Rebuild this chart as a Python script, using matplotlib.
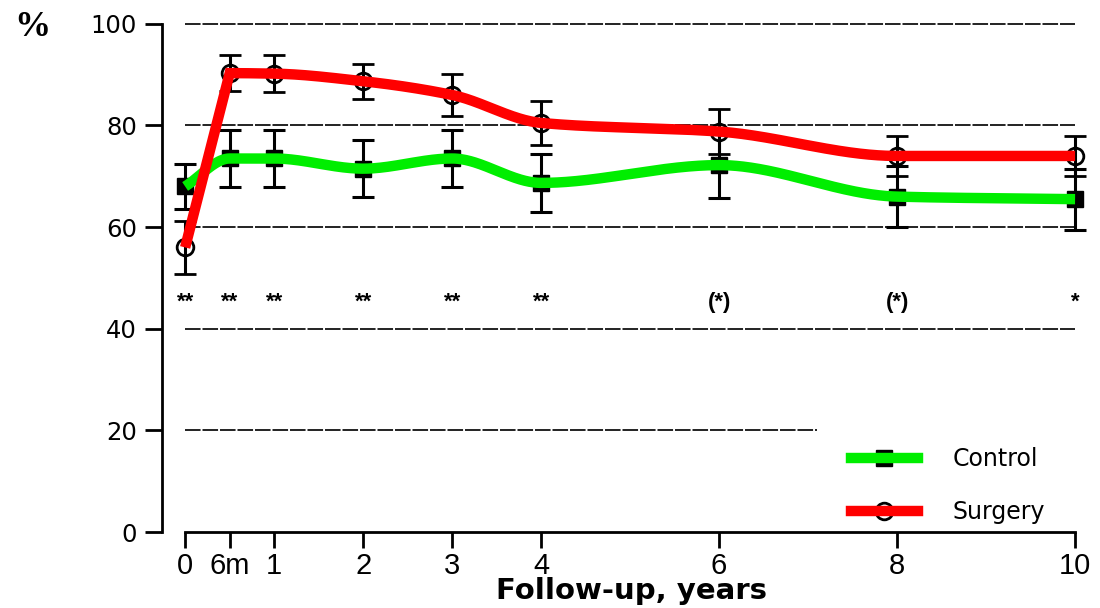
import numpy as np
import matplotlib
matplotlib.use("Agg")
import matplotlib.pyplot as plt
from matplotlib.lines import Line2D
from matplotlib.legend_handler import HandlerTuple

plt.rcParams['font.family'] = ['Liberation Sans', 'DejaVu Sans']

# ---- data ----
x_pos = [0, 0.5, 1, 2, 3, 4, 6, 8, 10]
x_labels = ["0", "6m", "1", "2", "3", "4", "6", "8", "10"]
surgery = [56, 90.3, 90.2, 88.7, 86, 80.5, 78.8, 74, 74]
surgery_err = [5.2, 3.6, 3.6, 3.4, 4.2, 4.3, 4.5, 4, 4]
control = [68, 73.5, 73.5, 71.5, 73.5, 68.7, 72.2, 66, 65.5]
control_err = [4.5, 5.7, 5.7, 5.6, 5.7, 5.7, 6.5, 6, 6]
signif = ["**", "**", "**", "**", "**", "**", "(*)", "(*)", "*"]
y_ticks = [0, 20, 40, 60, 80, 100]
grid_levels = [20, 40, 60, 80, 100]
grid_ends = [7.1, 10, 10, 10, 10]


def pchip(x, y, xs, corner_first=False):
    x = np.asarray(x, float); y = np.asarray(y, float)
    h = np.diff(x); delta = np.diff(y) / h
    n = len(x); d = np.zeros(n)
    for k in range(1, n - 1):
        if delta[k - 1] * delta[k] > 0:
            w1 = 2 * h[k] + h[k - 1]; w2 = h[k] + 2 * h[k - 1]
            d[k] = (w1 + w2) / (w1 / delta[k - 1] + w2 / delta[k])
    d[0] = delta[0]; d[-1] = delta[-1]
    ys = np.empty_like(xs)
    for i, xv in enumerate(xs):
        k = min(max(np.searchsorted(x, xv) - 1, 0), n - 2)
        t = (xv - x[k]) / h[k]
        if corner_first and k == 0:
            ys[i] = y[0] + t * (y[1] - y[0])
            continue
        h00 = 2*t**3 - 3*t**2 + 1; h10 = t**3 - 2*t**2 + t
        h01 = -2*t**3 + 3*t**2; h11 = t**3 - t**2
        ys[i] = h00*y[k] + h10*h[k]*d[k] + h01*y[k+1] + h11*h[k]*d[k+1]
    return ys


fig = plt.figure(figsize=(11, 6.08), dpi=100)
ax = fig.add_axes([162/1100, 76/608, 938/1100, 529/608])
ax.set_xlim(-0.26, 10.28)
ax.set_ylim(0, 104.1)

for lvl, xe in zip(grid_levels, grid_ends):
    ax.plot([0, xe], [lvl, lvl], color='#222222', lw=1.4, ls=(0, (8, 1)), zorder=1)

ax.errorbar(x_pos, control, yerr=control_err, fmt='s', color='black', ms=11,
            capsize=8, elinewidth=2.2, capthick=2.2, zorder=3)
ax.errorbar(x_pos, surgery, yerr=surgery_err, fmt='o', color='black', mfc='none',
            mec='black', mew=2, ms=12, capsize=8, elinewidth=2.2, capthick=2.2, zorder=3)

xs = np.linspace(0, 10, 800)
ax.plot(xs, pchip(x_pos, control, xs), color='#00ee00', lw=7.5,
        solid_capstyle='butt', zorder=5)
ax.plot(xs, pchip(x_pos, surgery, xs, corner_first=True), color='#ff0000', lw=7.5,
        solid_capstyle='butt', solid_joinstyle='miter', zorder=6)

for xv, s in zip(x_pos, signif):
    ax.text(xv, 45.2, s, ha='center', va='center', fontsize=16, fontweight='bold',
            color='black')

for sp in ['top', 'right']:
    ax.spines[sp].set_visible(False)
ax.spines['left'].set_bounds(0, 100)
ax.spines['bottom'].set_bounds(0, 10)
ax.spines['left'].set_linewidth(2)
ax.spines['bottom'].set_linewidth(2)

ax.set_yticks(y_ticks)
ax.set_yticklabels([str(v) for v in y_ticks], family=['DejaVu Sans'], fontsize=17.5)
ax.set_xticks(x_pos)
ax.set_xticklabels(x_labels, fontsize=21)
ax.tick_params(axis='y', length=12, width=2, pad=6)
ax.tick_params(axis='x', length=11.5, width=2, pad=3)
ax.set_xlabel("Follow-up, years", fontsize=21, fontweight='bold', labelpad=-2,
              family=['DejaVu Sans'])

fig.text(32/1100, 1 - 28/608, "%", fontsize=26, fontweight='bold',
         family=['Liberation Serif', 'DejaVu Serif'], ha='center', va='center')

h_control = (Line2D([], [], marker='s', color='black', ls='none', ms=11),
             Line2D([], [], color='#00ee00', lw=7.5))
h_surgery = (Line2D([], [], marker='o', mfc='none', mec='black', mew=2, ls='none', ms=12),
             Line2D([], [], color='#ff0000', lw=7.5))
leg = ax.legend([h_control, h_surgery], ["Control", "Surgery"],
                handler_map={tuple: HandlerTuple(ndivide=1)},
                loc='upper left', bbox_to_anchor=(0.7115, 0.2), frameon=False,
                prop={'family': 'DejaVu Sans', 'size': 17},
                handlelength=2.85, handletextpad=1.45, labelspacing=1.2,
                borderpad=0.4)

fig.savefig("out.png", dpi=100)
